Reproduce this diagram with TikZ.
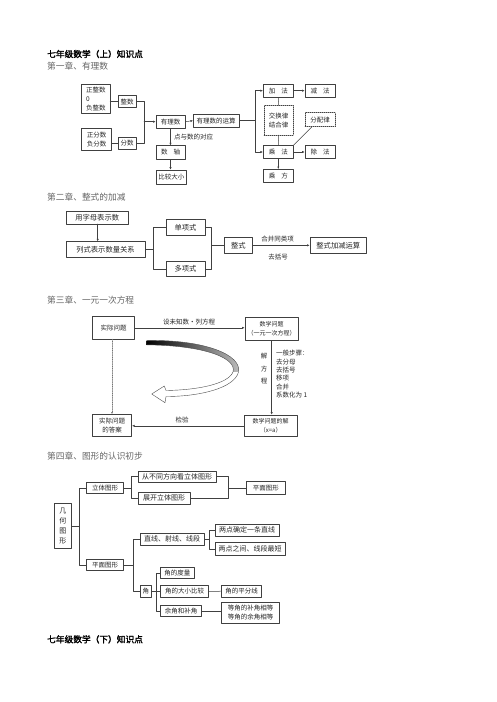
\documentclass[tikz,border=0pt]{standalone}
\usepackage{fontspec}
\newfontfamily\cjk{Noto Sans CJK SC}
\newfontfamily\cjkb[FakeBold=2]{Noto Sans CJK SC}
\usetikzlibrary{arrows.meta}
\tikzset{
  bx/.style={draw=black!75, line width=0.5pt, inner sep=0.5pt, text=black!85,
    font=\cjk\fontsize{6.5}{9}\selectfont, align=center},
  bxb/.style={bx, font=\cjk\fontsize{7.3}{9}\selectfont},
  dbx/.style={bx, dash pattern=on 1pt off 1pt},
  wh/.style 2 args={minimum width=#1pt, minimum height=#2pt},
  lbl/.style={inner sep=0pt, text=black!85, font=\cjk\fontsize{6.5}{9}\selectfont},
  head/.style={anchor=west, inner sep=0pt, text=black!60, font=\cjk\fontsize{8.7}{10}\selectfont},
  ttl/.style={anchor=west, inner sep=0pt, text=black, font=\cjkb\fontsize{8.7}{10}\selectfont},
  ln/.style={draw=black!75, line width=0.5pt},
  arr/.style={ln, -{Latex[length=2.6pt,width=2.2pt]}}
}
\begin{document}
\begin{tikzpicture}[x=1pt,y=-1pt,line cap=round,line join=round]
\useasboundingbox[fill=white] (0,0) rectangle (496,702);
\node[ttl] (t1) at (47,54) {七年级数学（上）知识点};
\node[head] (h1) at (47,66.5) {第一章、有理数};
\node[bx, wh={28.3}{29.3}, align=left] (zzs) at (95.8,98.7) {正整数\\0\\负整数};
\node[bx, wh={18}{12}] (zs) at (127,101.7) {整数};
\node[bx, wh={30}{21.7}] (zfs) at (96.7,139.2) {正分数\\负分数};
\node[bx, wh={18}{12}] (fs) at (127,143) {分数};
\node[bx, wh={29}{13}] (yls) at (170.5,121.7) {有理数};
\node[bx, wh={45.7}{13.3}] (ysf) at (216.2,120.7) {有理数的运算};
\node[bx, wh={29}{13.6}] (szh) at (170.5,152.5) {数\hspace{6pt}轴};
\node[bx, wh={30.7}{14}] (bjdx) at (171.3,177) {比较大小};
\node[lbl, anchor=west] (dys) at (174,137.5) {点与数的对应};
\node[bx, wh={30}{13.3}] (jf) at (278.3,90.7) {加\hspace{6pt}法};
\node[bx, wh={30}{13.3}] (jianf) at (320,90.7) {减\hspace{6pt}法};
\node[dbx, wh={29.3}{29.3}] (jhl) at (278.7,120.3) {交换律\\结合律};
\node[dbx, wh={30}{14}] (fpl) at (320,119.7) {分配律};
\node[bx, wh={30}{13.3}] (cf) at (278.3,152) {乘\hspace{6pt}法};
\node[bx, wh={30}{13.3}] (chuf) at (320,152) {除\hspace{6pt}法};
\node[bx, wh={30}{13.3}] (cfang) at (278.3,176) {乘\hspace{6pt}方};
\coordinate (j1) at (144,121.7);
\coordinate (j2) at (255,120.7);
\draw[ln] (zs.east) -| (j1);
\draw[ln] (fs.east) -| (j1);
\draw[ln] (zzs.east |- zs.west) -- (zs.west);
\draw[ln] (zfs.east |- fs.west) -- (fs.west);
\draw[arr] (j1) -- (yls.west);
\draw[arr] (yls.east) -- (ysf.west);
\draw[arr] (yls.south) -- (szh.north);
\draw[arr] (szh.south) -- (bjdx.north -| szh.south);
\draw[ln] (ysf.east) -- (j2);
\draw[arr] (j2) |- (jf.west);
\draw[arr] (j2) |- (cf.west);
\draw[arr] (jf.east) -- (jianf.west);
\draw[arr] (cf.east) -- (chuf.west);
\draw[arr] (cf.south) -- (cfang.north);
\draw[ln] (jf.south) -- (jhl.north);
\draw[ln] (jhl.south) -- (cf.north);
\draw[ln] (cf.north east) -- ([xshift=7pt]fpl.south west);
\node[head] (h2) at (47,196.7) {第二章、整式的加减};
\node[bxb, wh={62.3}{12.5}] (yzm) at (97.2,217.5) {用字母表示数};
\node[bxb, wh={79}{16}] (lsbs) at (105.5,249.7) {列式表示数量关系};
\node[bxb, wh={39}{16}] (dxs) at (185.5,227.5) {单项式};
\node[bxb, wh={39}{15}] (dxs2) at (185.5,268.8) {多项式};
\node[bxb, wh={28.7}{16}] (zshi) at (238.3,245.3) {整式};
\node[bxb, wh={56.7}{16}] (zsjj) at (338.3,245.3) {整式加减运算};
\coordinate (j3) at (153.3,249.7);
\coordinate (j4) at (211.7,245.3);
\draw[arr] (yzm.south -| 97.7,0) -- (lsbs.north -| 97.7,0);
\draw[ln] (lsbs.east) -- (j3);
\draw[ln] (j3) |- (dxs.west);
\draw[ln] (j3) |- (dxs2.west);
\draw[ln] (dxs.east) -| (j4);
\draw[ln] (dxs2.east) -| (j4);
\draw[ln] (j4) -- (zshi.west);
\draw[arr] (zshi.east) -- (zsjj.west);
\node[lbl] (hb) at (277.5,239.3) {合并同类项};
\node[lbl] (qkh) at (278,257.3) {去括号};
\node[head] (h3) at (47,300) {第三章、一元一次方程};
\node[bx, wh={41.7}{22.3}] (sjwt) at (113.5,327.8) {实际问题};
\node[bx, wh={53.3}{22.7}, font=\cjk\fontsize{6}{9}\selectfont] (sxwt) at (271.7,328.7) {数学问题\\（一元一次方程）};
\node[bx, wh={53.3}{21.7}, font=\cjk\fontsize{6}{9}\selectfont] (sxjie) at (270.7,425.8) {数学问题的解\\（x=a）};
\node[bx, wh={39}{22.4}] (sjda) at (112.2,425.5) {实际问题\\的答案};
\draw[arr] (sjwt.east) -- (sxwt.west |- sjwt.east);
\draw[arr] (sxwt.south) -- (sxwt.south |- sxjie.north);
\draw[arr] (sxjie.west) -- (sjda.east |- sxjie.west);
\draw[ln, draw=black!55, dash pattern=on 0.8pt off 1pt, -{Latex[length=2pt,width=1.8pt]}] (sjwt.south -| 112,0) -- (sjda.north -| 112,0);
\node[lbl] (slfc) at (189,322) {设未知数·列方程};
\node[lbl] (jy) at (182,419.5) {检验};
\node[lbl, align=center, font=\cjk\fontsize{6.5}{12.5}\selectfont] (jfc) at (264,369) {解\\方\\程};
\node[lbl, align=left, anchor=north west, font=\cjk\fontsize{6.5}{8.4}\selectfont] (bz) at (276,350) {一般步骤：\\去分母\\去括号\\移项\\合并\\系数化为 1};
\path[save path=\bigarrow] (146.7,340.5) .. controls (205,339.5) and (242,355) .. (238.5,372)
  .. controls (234.5,388) and (200,396.5) .. (166,396.5) -- (165,402.7) -- (151.7,394) -- (164.3,386)
  -- (166,390.5) .. controls (198,390) and (228,384) .. (233,372)
  .. controls (237,358) and (205,345.5) .. (146.7,344.8) -- cycle;
\fill[white, use path=\bigarrow];
\begin{scope}
\clip[use path=\bigarrow];
\shade[left color=black, right color=black!25] (146,336) rectangle (241,371);
\end{scope}
\draw[black!70, line width=0.4pt, use path=\bigarrow];
\node[head] (h4) at (47,456) {第四章、图形的认识初步};
\node[bx, wh={17.7}{45}, font=\cjk\fontsize{7}{10}\selectfont] (jhtx) at (62.8,525.8) {几\\何\\图\\形};
\node[bx, wh={36.7}{11.4}] (ltx) at (105,487.8) {立体图形};
\node[bx, wh={36.7}{11.4}] (pmtx) at (105,565) {平面图形};
\node[bx, wh={77.7}{11.4}, font=\cjk\fontsize{7}{9}\selectfont] (cbt) at (177.2,476.7) {从不同方向看立体图形};
\node[bx, wh={51.7}{11.7}, font=\cjk\fontsize{7}{9}\selectfont] (zk) at (164.2,498.2) {展开立体图形};
\node[bx, wh={38.3}{12.6}] (pm2) at (265.8,488) {平面图形};
\node[bx, wh={64}{11.7}, font=\cjk\fontsize{7}{9}\selectfont] (zx) at (172,539.2) {直线、射线、线段};
\node[bx, wh={11.7}{11.6}] (jiao) at (145.8,591.5) {角};
\node[bx, wh={64.3}{12}, font=\cjk\fontsize{7}{9}\selectfont] (ld1) at (247.2,530) {两点确定一条直线};
\node[bx, wh={70}{12.3}, font=\cjk\fontsize{7}{9}\selectfont] (ld2) at (250,548.8) {两点之间、线段最短};
\node[bx, wh={33.3}{11}] (jdl) at (177.3,572.8) {角的度量};
\node[bx, wh={47.6}{11.6}] (jdx) at (184.5,591.5) {角的大小比较};
\node[bx, wh={40}{12.3}] (jpf) at (241.7,591.2) {角的平分线};
\node[bx, wh={41}{11.7}] (yj) at (181.2,610.8) {余角和补角};
\node[bx, wh={57.6}{20.6}] (dj) at (250.5,613) {等角的补角相等\\等角的余角相等};
\coordinate (j5) at (79.3,525.8);
\coordinate (j6) at (131.7,487.8);
\coordinate (j7) at (228.3,488);
\coordinate (j8) at (133.3,565);
\coordinate (j9) at (209.3,539.2);
\coordinate (j10) at (156.7,591.5);
\draw[ln] (jhtx.east) -- (j5);
\draw[ln] (j5) |- (ltx.west);
\draw[ln] (j5) |- (pmtx.west);
\draw[ln] (ltx.east) -- (j6);
\draw[ln] (j6) |- (cbt.west);
\draw[ln] (j6) |- (zk.west);
\draw[ln] (cbt.east) -| (j7);
\draw[ln] (zk.east) -| (j7);
\draw[ln] (j7) -- (pm2.west);
\draw[ln] (pmtx.east) -- (j8);
\draw[ln] (j8) |- (zx.west);
\draw[ln] (j8) |- (jiao.west);
\draw[ln] (zx.east) -- (j9);
\draw[ln] (j9) |- (ld1.west);
\draw[ln] (j9) |- (ld2.west);
\draw[ln] (jiao.east) -- (j10);
\draw[ln] (j10) |- (jdl.west);
\draw[ln] (j10) |- (jdx.west);
\draw[ln] (j10) |- (yj.west);
\draw[ln] (jdx.east) -- (jpf.west);
\draw[ln] (yj.east) -- (yj.east -| dj.west);
\node[ttl] (t2) at (47,639.3) {七年级数学（下）知识点};
\end{tikzpicture}
\end{document}
